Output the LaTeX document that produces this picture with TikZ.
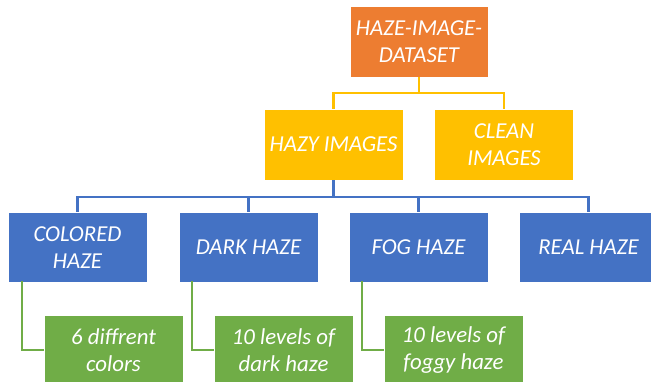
\documentclass[tikz,border=0pt]{standalone}
\usepackage{fontspec}
\setmainfont{Carlito}
\definecolor{cOrange}{HTML}{ED7D31}
\definecolor{cYellow}{HTML}{FFC000}
\definecolor{cBlue}{HTML}{4472C4}
\definecolor{cGreen}{HTML}{70AD47}
\tikzset{
  box/.style={rectangle, draw=white, line width=0.8pt, text=white,
    minimum width=139pt, minimum height=70pt, inner sep=2pt, align=center,
    font=\fontsize{22.8}{26.5}\selectfont\itshape},
  topbox/.style={box, fill=cOrange, minimum width=138pt, minimum height=71pt},
  midbox/.style={box, fill=cYellow, minimum height=71pt},
  bluebox/.style={box, fill=cBlue},
  greenbox/.style={box, fill=cGreen},
  link/.style={line width=2.2pt}
}
\begin{document}
\begin{tikzpicture}[x=1pt, y=-1pt]
\useasboundingbox (0,0) rectangle (651,382);
% tree levels
\node[topbox] (root) at (419,41.5) {HAZE-IMAGE-\\DATASET};
\node[midbox] (hazy) at (333.5,144.5) {HAZY IMAGES};
\node[midbox] (clean) at (504,144.5) {CLEAN\\IMAGES};
\node[bluebox] (colored) at (77.5,247.5) {COLORED\\HAZE};
\node[bluebox] (dark) at (248.5,247.5) {DARK HAZE};
\node[bluebox] (fog) at (418.5,247.5) {FOG HAZE};
\node[bluebox] (real) at (588.5,247.5) {REAL HAZE};
\node[greenbox] (six) at (113.5,350) {6 diffrent\\colors};
\node[greenbox] (darklv) at (283.5,350) {10 levels of\\dark haze};
\node[greenbox] (foglv) at (453.5,350) {10 levels of\\foggy haze};
% connectors
\draw[link, cYellow] (root.south) -- ++(0,16) -| (hazy.north);
\draw[link, cYellow] (root.south) -- ++(0,16) -| (clean.north);
\foreach \c in {colored, dark, fog, real}
  \draw[link, cBlue] (hazy.south) -- ++(0,17) -| (\c.north);
\draw[link, cGreen] ([xshift=14pt,yshift=2pt]colored.south west) |- (six.west);
\draw[link, cGreen] ([xshift=13pt,yshift=2pt]dark.south west) |- (darklv.west);
\draw[link, cGreen] ([xshift=13pt,yshift=2pt]fog.south west) |- (foglv.west);
\end{tikzpicture}
\end{document}
